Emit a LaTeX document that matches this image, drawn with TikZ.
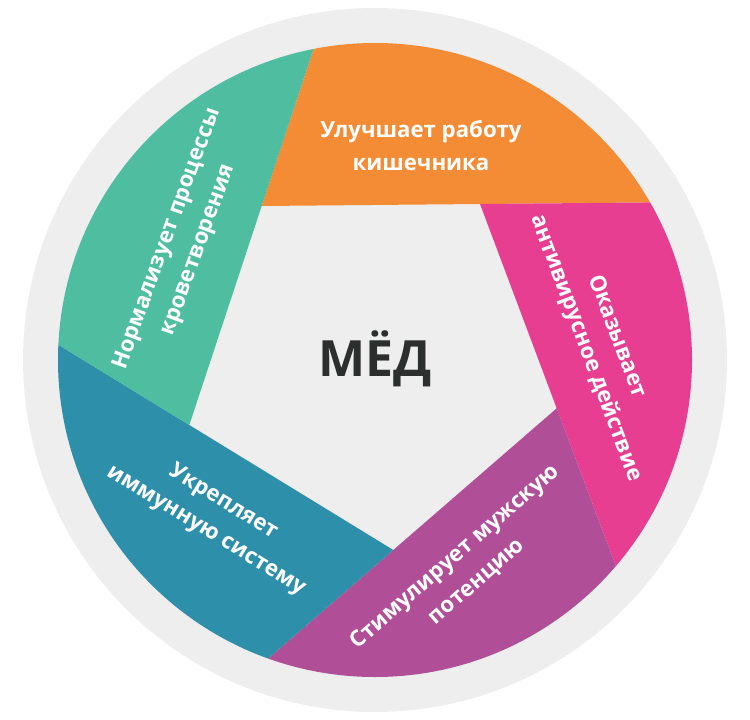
\documentclass[tikz,border=0pt]{standalone}
\usepackage{fontspec}
\setmainfont{Open Sans}
\usetikzlibrary{calc}
\definecolor{ringgrey}{RGB}{237,238,237}
\definecolor{secorange}{RGB}{244,140,54}
\definecolor{secpink}{RGB}{231,62,145}
\definecolor{secpurple}{RGB}{176,79,152}
\definecolor{secblue}{RGB}{46,143,170}
\definecolor{secteal}{RGB}{79,190,160}
\definecolor{darktext}{RGB}{45,47,46}
\tikzset{
  seclabel/.style={text=white, align=center, inner sep=0pt,
    font=\bfseries\fontsize{22.2}{33}\selectfont},
}
\begin{document}
\begin{tikzpicture}[x=1pt,y=-1pt]
\useasboundingbox (0,0) rectangle (750,720);
\fill[ringgrey] (375,360) circle (352pt);
\coordinate (A) at (261.7,206);
\coordinate (B) at (480,204);
\coordinate (C) at (556.7,408.3);
\coordinate (D) at (393.3,550);
\coordinate (E) at (189.3,425);
\begin{scope}
  \clip (375,360) circle (317pt);
  \fill[secorange] (A) -- (B) -- ($(A)!4!(B)$) -- ($(E)!4!(A)$) -- cycle;
  \fill[secpink]   (B) -- (C) -- ($(B)!4!(C)$) -- ($(A)!4!(B)$) -- cycle;
  \fill[secpurple] (C) -- (D) -- ($(C)!4!(D)$) -- ($(B)!4!(C)$) -- cycle;
  \fill[secblue]   (D) -- (E) -- ($(D)!4!(E)$) -- ($(C)!4!(D)$) -- cycle;
  \fill[secteal]   (E) -- (A) -- ($(E)!4!(A)$) -- ($(D)!4!(E)$) -- cycle;
\end{scope}
\node[text=darktext, font=\bfseries\fontsize{50}{50}\selectfont, anchor=base, inner sep=0pt] (med) at (375.5,376) {МЁД};
\node[seclabel] (t1) at (421,146) {Улучшает работу\\кишечника};
\node[seclabel, rotate=-69.5] (t2) at (601,342.5) {Оказывает\\антивирусное действие};
\node[seclabel, rotate=41] (t3) at (466,569.5) {Стимулирует мужскую\\потенцию};
\node[seclabel, rotate=-31.5] (t4) at (214.5,516.5) {Укрепляет\\иммунную систему};
\node[seclabel, rotate=70] (t5) at (183,244.5) {Нормализует процессы\\кроветворения};
\end{tikzpicture}
\end{document}
